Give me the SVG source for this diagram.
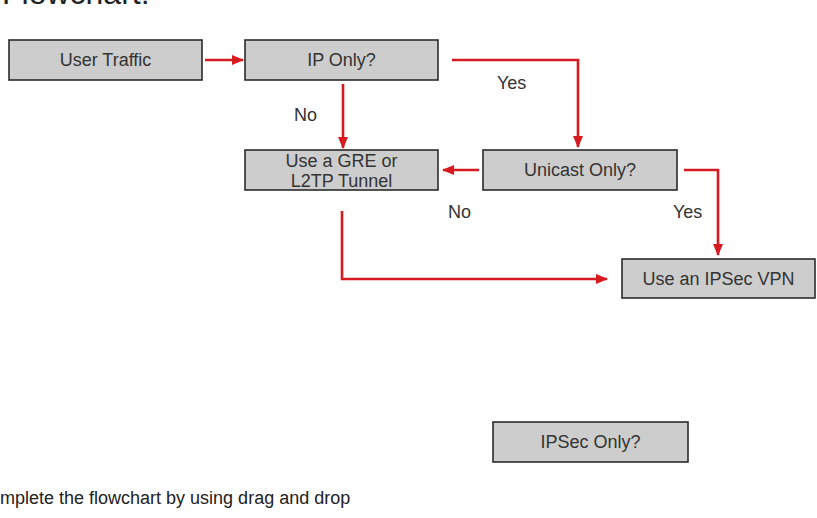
<svg xmlns="http://www.w3.org/2000/svg" width="817" height="518" viewBox="0 0 817 518">
<defs>
<style>
.box{fill:#cdcdcd;stroke:#2b2b2b;stroke-width:1.6}
.t{font-family:"Liberation Sans",Arial,sans-serif;font-size:18px;fill:#333;text-anchor:middle}
.lbl{font-family:"Liberation Sans",Arial,sans-serif;font-size:18px;fill:#333}
.c{fill:none;stroke:#d71920;stroke-width:2.6}
</style>
<marker id="ah" viewBox="0 0 12 10" refX="11" refY="5" markerWidth="12" markerHeight="10" markerUnits="userSpaceOnUse" orient="auto">
<path d="M0,0 L12,5 L0,10 Z" fill="#d71920"/>
</marker>
</defs>
<rect width="817" height="518" fill="#ffffff"/>
<text x="2" y="4" font-family="'Liberation Sans',Arial,sans-serif" font-size="32" fill="#222">Flowchart:</text>
<g id="connectors">
<line class="c" x1="205" y1="60" x2="243" y2="60" marker-end="url(#ah)"/>
<line class="c" x1="343" y1="84" x2="343" y2="148" marker-end="url(#ah)"/>
<polyline class="c" points="452,60 578,60 578,147" marker-end="url(#ah)"/>
<line class="c" x1="479" y1="170" x2="443" y2="170" marker-end="url(#ah)"/>
<polyline class="c" points="684,170 718,170 718,255" marker-end="url(#ah)"/>
<polyline class="c" points="342,211 342,279 607,279" marker-end="url(#ah)"/>
</g>
<g id="labels">
<text class="lbl" x="294" y="121">No</text>
<text class="lbl" x="497" y="89">Yes</text>
<text class="lbl" x="448" y="218">No</text>
<text class="lbl" x="673" y="218">Yes</text>
</g>
<g id="user-traffic">
<rect class="box" x="9" y="40" width="193" height="40"/>
<text class="t" x="105.5" y="66">User Traffic</text>
</g>
<g id="ip-only">
<rect class="box" x="245" y="40" width="193" height="40"/>
<text class="t" x="341.5" y="66">IP Only?</text>
</g>
<g id="gre-tunnel">
<rect class="box" x="245" y="150" width="193" height="40"/>
<text class="t" x="341.5" y="167">Use a GRE or</text>
<text class="t" x="341.5" y="187">L2TP Tunnel</text>
</g>
<g id="unicast-only">
<rect class="box" x="483" y="150" width="194" height="40"/>
<text class="t" x="580" y="176">Unicast Only?</text>
</g>
<g id="ipsec-vpn">
<rect class="box" x="622" y="259" width="193" height="39"/>
<text class="t" x="718.5" y="285">Use an IPSec VPN</text>
</g>
<g id="ipsec-only">
<rect class="box" x="493" y="422" width="195" height="40"/>
<text class="t" x="590.5" y="448">IPSec Only?</text>
</g>
<text x="0" y="504" font-family="'Liberation Sans',Arial,sans-serif" font-size="18" fill="#222">mplete the flowchart by using drag and drop</text>
</svg>
